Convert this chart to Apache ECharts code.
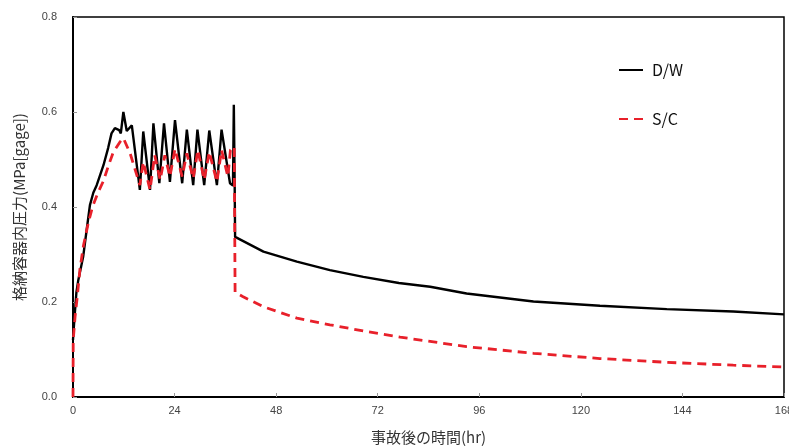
<!DOCTYPE html>
<html>
<head>
<meta charset="utf-8">
<script src="https://cdn.jsdelivr.net/npm/echarts@6/dist/echarts.min.js"></script>
<style>html,body{margin:0;padding:0;background:#fff}#c{width:789px;height:448px}</style>
</head>
<body>
<div id="c"></div>
<script>
const dwTime = [0,0.3,0.8,1.25,2.4,3.2,4.0,4.8,5.6,6.4,7.2,8.3,9.1,9.9,10.9,11.3,11.9,12.7,13.9,15.8,16.6,18.2,19.0,20.4,21.5,22.9,24.1,25.8,26.9,28.4,29.4,31.0,32.2,34.0,35.1,37.1,37.8,38.0,38.2,38.3,45,52.9,60.7,68.6,77,84.4,93,108.8,124.5,140.3,156,168];
const dwPressure = [0.12,0.16,0.22,0.246,0.295,0.35,0.404,0.43,0.446,0.467,0.488,0.524,0.555,0.566,0.562,0.555,0.60,0.56,0.572,0.436,0.559,0.436,0.576,0.45,0.576,0.453,0.583,0.45,0.563,0.446,0.563,0.446,0.561,0.446,0.563,0.45,0.445,0.615,0.45,0.337,0.306,0.285,0.267,0.253,0.24,0.232,0.218,0.201,0.192,0.185,0.18,0.174];
const scTime = [0,0.05,0.5,1.0,1.65,2.5,3.6,4.6,5.8,7.2,8.3,9.5,11.1,11.9,13.5,15.8,16.6,18.2,19.3,20.6,21.7,22.9,24.1,25.8,26.9,28.4,29.5,31.0,32.2,34.0,35.1,36.6,37.2,38.1,38.3,40.2,45,52.9,60.7,68.6,77.3,93,108.8,124.5,140.3,156,168];
const scPressure = [0,0.12,0.17,0.21,0.27,0.32,0.366,0.40,0.428,0.455,0.485,0.515,0.537,0.545,0.513,0.446,0.495,0.436,0.509,0.457,0.509,0.464,0.522,0.464,0.513,0.46,0.52,0.457,0.516,0.453,0.52,0.464,0.52,0.527,0.22,0.211,0.19,0.166,0.152,0.139,0.126,0.106,0.092,0.081,0.073,0.067,0.063];
const xTicks = [0,24,48,72,96,120,144,168];
const yTicks = [0.0,0.2,0.4,0.6,0.8];
const seriesNames = ['D/W','S/C'];

const zip = (a,b) => a.map((v,i)=>[v,b[i]]);
const chart = echarts.init(document.getElementById('c'), null, {renderer:'canvas'});
const jp = '"Noto Sans CJK JP", "Noto Sans", sans-serif';
chart.setOption({
  animation:false,
  backgroundColor:'#fff',
  grid:{left:73,right:5,top:17,bottom:51,show:true,borderColor:'#000',borderWidth:1.5,backgroundColor:'transparent',
        containLabel:false,outerBoundsMode:'none'},
  legend:{
    data:seriesNames, orient:'vertical', left:613, top:57, itemWidth:24, itemHeight:14, itemGap:33,
    textStyle:{fontFamily:jp,fontSize:16,color:'#111',padding:[0,0,0,4]}
  },
  xAxis:{
    type:'value', min:xTicks[0], max:xTicks[xTicks.length-1], interval:24,
    name:'事故後の時間(hr)', nameLocation:'middle', nameGap:33,
    nameTextStyle:{fontFamily:jp,fontSize:15,color:'#333'},
    axisLine:{lineStyle:{color:'#000',width:2}},
    axisTick:{inside:true,length:4,lineStyle:{color:'#999'}},
    axisLabel:{fontFamily:'"Liberation Sans", Arial, sans-serif',fontSize:11,color:'#444',margin:8},
    splitLine:{show:false}
  },
  yAxis:{
    type:'value', min:yTicks[0], max:yTicks[yTicks.length-1], interval:0.2,
    name:'格納容器内圧力(MPa[gage])', nameLocation:'middle', nameGap:46,
    nameTextStyle:{fontFamily:jp,fontSize:15,color:'#333'},
    axisLine:{lineStyle:{color:'#000',width:2}},
    axisTick:{inside:true,length:4,lineStyle:{color:'#999'}},
    axisLabel:{fontFamily:'"Liberation Sans", Arial, sans-serif',fontSize:11,color:'#444',margin:16,formatter:v=>v.toFixed(1)},
    splitLine:{show:false}
  },
  series:[
    {name:seriesNames[0],type:'line',data:zip(dwTime,dwPressure),showSymbol:false,symbol:'none',
     lineStyle:{color:'#000',width:2.4},itemStyle:{color:'#000',opacity:0},z:3},
    {name:seriesNames[1],type:'line',data:zip(scTime,scPressure),showSymbol:false,symbol:'none',
     lineStyle:{color:'#e8202a',width:2.8,type:[9,6]},itemStyle:{color:'#e8202a',opacity:0},z:4}
  ]
});
</script>
</body>
</html>
